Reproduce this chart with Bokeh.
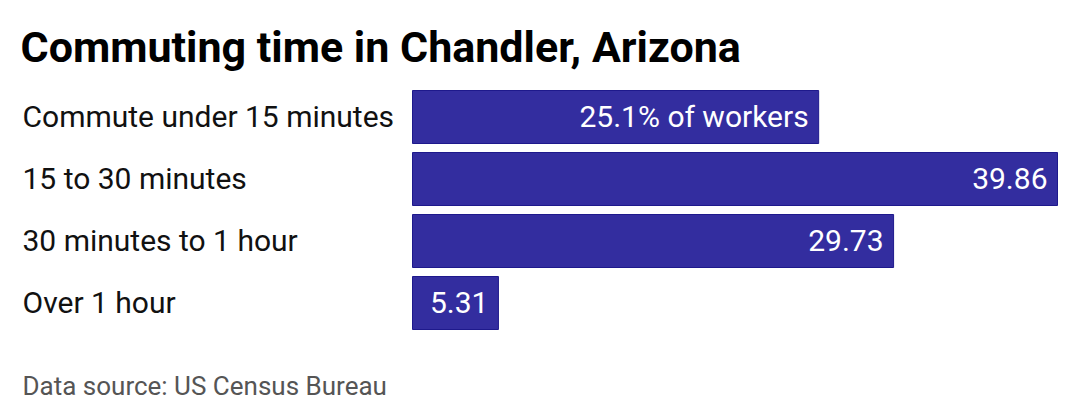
from bokeh.plotting import figure
from bokeh.models import Range1d
from bokeh.embed import file_html
from bokeh.resources import INLINE
from bokeh.core.properties import value

title_text = "Commuting time in Chandler, Arizona"
source_text = "Data source: US Census Bureau"
categories = ["Commute under 15 minutes", "15 to 30 minutes", "30 minutes to 1 hour", "Over 1 hour"]
shares = [25.1, 39.86, 29.73, 5.31]
value_labels = ["25.1% of workers", "39.86", "29.73", "5.31"]

W, H = 1064, 412
bar_left_px, bar_right_px = 412, 1057
xmax = max(shares)
sx = (bar_right_px - bar_left_px) / xmax  # px per unit
pitch = 62.0
first_center_px = 116.5

def fx(px):
    return (px - bar_left_px) / sx

def fy(px):
    return (px - first_center_px) / pitch

p = figure(width=W, height=H, output_backend="svg", toolbar_location=None,
           x_range=Range1d(fx(0), fx(W)), y_range=Range1d(fy(H), fy(0)),
           min_border=0, outline_line_color=None)
p.axis.visible = False
p.grid.visible = False
p.background_fill_color = "white"
p.border_fill_color = "white"

idx = list(range(len(categories)))
p.hbar(y=idx, left=0, right=shares, height=53 / pitch,
       fill_color="#332d9f", line_color="#1e198c", line_width=1)

font = value("Roboto")
p.text(x=[fx(20)], y=[fy(46)], text=[title_text], text_font=font,
       text_font_size="43px", text_font_style="bold", text_color="#000000",
       text_baseline="alphabetic", text_align="left")

p.text(x=[fx(22)] * len(categories), y=idx, text=categories, text_font=font,
       text_font_size="30px", text_color="#111111", text_baseline="alphabetic",
       text_align="left", y_offset=-1)

p.text(x=shares, y=idx, text=value_labels, text_font=font, x_offset=-10,
       text_font_size="30px", text_color="#ffffff", text_baseline="alphabetic",
       text_align="right", y_offset=-1)

p.text(x=[fx(22)], y=[fy(385)], text=[source_text], text_font=font,
       text_font_size="26px", text_color="#555555", text_baseline="alphabetic",
       text_align="left")

open("out.html", "w").write(file_html(p, INLINE))
